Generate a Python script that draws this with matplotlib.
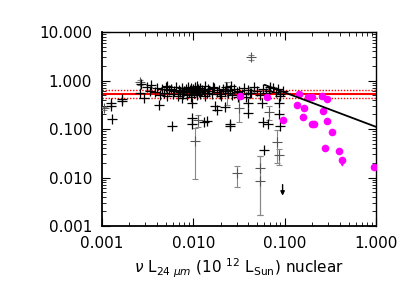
import numpy as np
import matplotlib
matplotlib.use("Agg")
import matplotlib.pyplot as plt
from matplotlib.ticker import LogLocator, FixedLocator, NullFormatter

# ===== Data =====
# main band of black crosses (no visible error bars)
band_x = [0.0026, 0.0027, 0.0029, 0.0031, 0.0034, 0.0035, 0.0038, 0.0040, 0.0043,
          0.0046, 0.0048, 0.0050, 0.0052, 0.0055, 0.0057, 0.0060, 0.0062, 0.0065,
          0.0068, 0.0070, 0.0072, 0.0075, 0.0078, 0.0080, 0.0083, 0.0085, 0.0088,
          0.0090, 0.0093, 0.0095, 0.0098, 0.0100, 0.0102, 0.0105, 0.0108, 0.0110,
          0.0112, 0.0115, 0.0118, 0.0120, 0.0125, 0.0130, 0.0135, 0.0140, 0.0145,
          0.0150, 0.0160, 0.0170, 0.0180, 0.0190, 0.0200, 0.0210, 0.0220, 0.0230,
          0.0240, 0.0250, 0.0265, 0.0280, 0.0300, 0.0320, 0.0340, 0.0360, 0.0380,
          0.0400, 0.0430, 0.0460, 0.0500, 0.0540, 0.0580, 0.0620, 0.0680, 0.0740,
          0.0800, 0.0850, 0.0900, 0.0950, 0.0052, 0.0075, 0.0095, 0.0110, 0.0135,
          0.0165, 0.0195, 0.0260, 0.0310, 0.0420, 0.0700, 0.0880]
band_y = [0.56, 0.85, 0.43, 0.74, 0.62, 0.80, 0.58, 0.69, 0.50,
          0.66, 0.55, 0.72, 0.47, 0.63, 0.68, 0.52, 0.60, 0.75,
          0.48, 0.64, 0.58, 0.70, 0.54, 0.62, 0.66, 0.50, 0.72,
          0.57, 0.64, 0.46, 0.60, 0.68, 0.55, 0.74, 0.62, 0.50,
          0.66, 0.58, 0.70, 0.53, 0.64, 0.60, 0.76, 0.56, 0.67,
          0.62, 0.52, 0.70, 0.58, 0.64, 0.48, 0.66, 0.60, 0.72,
          0.55, 0.63, 0.50, 0.68, 0.58, 0.62, 0.52, 0.70, 0.46,
          0.64, 0.56, 0.74, 0.60, 0.50, 0.66, 0.55, 0.62, 0.70,
          0.58, 0.66, 0.52, 0.60, 0.78, 0.44, 0.70, 0.78, 0.48,
          0.72, 0.54, 0.78, 0.46, 0.56, 0.74, 0.48]

# scattered black crosses below the band
low_x = [0.00125, 0.00125, 0.00131, 0.00165, 0.00165, 0.0042, 0.0058, 0.0096,
         0.0096, 0.0173, 0.0180, 0.0220, 0.0250, 0.0130, 0.0098, 0.0400, 0.0400,
         0.0570, 0.0870, 0.0870, 0.0580, 0.0890, 0.0255, 0.0140, 0.0597, 0.0660]
low_y = [0.34, 0.30, 0.158, 0.41, 0.37, 0.31, 0.115, 0.35,
         0.13, 0.30, 0.245, 0.29, 0.125, 0.14, 0.17, 0.35, 0.21,
         0.34, 0.34, 0.20, 0.14, 0.115, 0.115, 0.15, 0.0369, 0.125]

# grey crosses with error bars
err_x = [0.0105, 0.0300, 0.0536, 0.0536, 0.0815, 0.0870, 0.0113, 0.0236,
         0.0320, 0.0670, 0.0434, 0.0026, 0.00105]
err_y = [0.057, 0.0122, 0.0155, 0.0085, 0.0547, 0.029, 0.152, 0.60,
         0.27, 0.225, 3.0, 0.95, 0.27]
err_lo = [0.0093, 0.0063, 0.0017, 0.0017, 0.0202, 0.018, 0.112, 0.31,
          0.14, 0.155, 2.7, 0.80, 0.25]
err_hi = [0.105, 0.0175, 0.0277, 0.0277, 0.0955, 0.0387, 0.195, 0.95,
          0.55, 0.30, 3.3, 1.05, 0.29]

# upper limit (down arrow)
lim_x = [0.095]
lim_y = [0.0053]

# magenta points
mag_x = [0.143, 0.178, 0.197, 0.254, 0.294, 0.135, 0.163, 0.264, 0.095, 0.157,
         0.290, 0.199, 0.210, 0.326, 0.275, 0.394, 0.428, 0.946, 0.0329, 0.0644]
mag_y = [0.52, 0.45, 0.46, 0.49, 0.41, 0.32, 0.27, 0.235, 0.157, 0.177,
         0.148, 0.125, 0.125, 0.088, 0.0406, 0.0347, 0.023, 0.0162, 0.49, 0.46]

# horizontal reference levels and the fitted line
mean_level = 0.527
band_levels = [0.625, 0.44]
fit_x = [0.0607, 1.0]
fit_norm = 0.111
fit_slope = -0.71

xticks = [0.001, 0.01, 0.1, 1.0]
xticklabels = ["0.001", "0.010", "0.100", "1.000"]
yticks = [0.001, 0.01, 0.1, 1.0, 10.0]
yticklabels = ["0.001", "0.010", "0.100", "1.000", "10.000"]

# ===== Plot =====
fig = plt.figure(figsize=(4.07, 2.91), dpi=100)
ax = fig.add_axes([0.25, 0.223, 0.674, 0.667])
ax.set_xscale("log")
ax.set_yscale("log")
ax.set_xlim(0.001, 1.0)
ax.set_ylim(0.001, 10.0)

ax.axhline(mean_level, color="red", lw=1.5, zorder=2)
for lev in band_levels:
    ax.axhline(lev, color="red", lw=1.0, ls=(0, (1, 1.2)), zorder=2)

err_y_arr = np.array(err_y)
yerr = [err_y_arr - np.array(err_lo), np.array(err_hi) - err_y_arr]
ax.errorbar(err_x, err_y, yerr=yerr, fmt="none", ecolor="#888888",
            elinewidth=0.8, capsize=2, capthick=0.8, zorder=3)
ax.plot(err_x, err_y, ls="none", marker="+", ms=7, mew=0.8, color="#555555", zorder=3)

ax.plot(band_x, band_y, ls="none", marker="+", ms=7, mew=0.9, color="black", zorder=4)
ax.plot(low_x, low_y, ls="none", marker="+", ms=7, mew=0.9, color="black", zorder=4)

for x, y in zip(lim_x, lim_y):
    ax.annotate("", xy=(x, y * 0.8), xytext=(x, y * 1.35),
                arrowprops=dict(arrowstyle="-|>", color="black", lw=1.0,
                                mutation_scale=6, shrinkA=0, shrinkB=0))

ax.plot(mag_x, mag_y, ls="none", marker="o", ms=5.5, color="magenta", mec="none", zorder=5)
ax.annotate("", xy=(0.428, 0.023 * 0.72), xytext=(0.428, 0.023 * 0.95),
            arrowprops=dict(arrowstyle="-|>", color="magenta", lw=0.8,
                            mutation_scale=5, shrinkA=0, shrinkB=0))

fx = np.array(fit_x)
ax.plot(fx, fit_norm * fx ** fit_slope, color="black", lw=1.3, zorder=6)

ax.xaxis.set_major_locator(FixedLocator(xticks))
ax.set_xticklabels(xticklabels)
ax.yaxis.set_major_locator(FixedLocator(yticks))
ax.set_yticklabels(yticklabels)
ax.xaxis.set_minor_locator(LogLocator(base=10, subs=np.arange(2, 10), numticks=20))
ax.yaxis.set_minor_locator(LogLocator(base=10, subs=np.arange(2, 10), numticks=20))
ax.xaxis.set_minor_formatter(NullFormatter())
ax.yaxis.set_minor_formatter(NullFormatter())
ax.tick_params(which="both", direction="in", top=True, right=True, labelsize=11, pad=7)
ax.tick_params(which="major", length=6, width=0.8)
ax.tick_params(which="minor", length=3, width=0.6)
for side in ["left", "bottom"]:
    ax.spines[side].set_linewidth(1.3)
for side in ["top", "right"]:
    ax.spines[side].set_linewidth(1.0)

ax.set_xlabel(r"$\nu$ L$_{24\ \mu m}$ (10 $^{12}$ L$_{\rm Sun}$) nuclear", fontsize=11, labelpad=4)

fig.savefig("out.png", dpi=100)
